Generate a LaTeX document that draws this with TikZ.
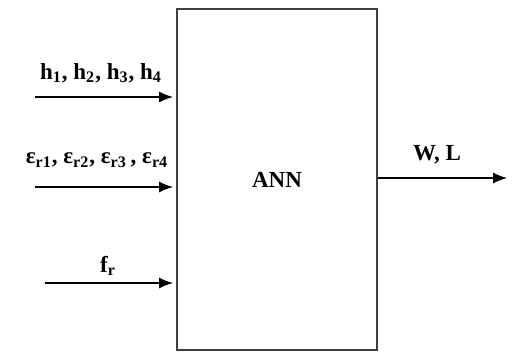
\documentclass[tikz,border=0pt]{standalone}
\usepackage{fontspec}
\setmainfont{Liberation Serif}
\usetikzlibrary{arrows.meta, positioning}

\begin{document}
\begin{tikzpicture}[x=0.5pt,y=-0.5pt,font=\bfseries\fontsize{11.5}{13}\selectfont,
     >={Latex[length=7pt,width=5.5pt]},
     block/.style={draw=black!75,line width=1pt,minimum width=100pt,minimum height=170.5pt,inner sep=0pt},
     lbl/.style={inner sep=1pt},
     flow/.style={->,line width=0.6pt,shorten >=1.5pt}]
    \useasboundingbox (0,0) rectangle (517,354);
    \node[block] (ann) at (277,179.5) {ANN};
    \coordinate (in1) at (35,97);
    \coordinate (in2) at (35,187);
    \coordinate (in3) at (45,283);
    \coordinate (out) at (507,178);
    \node[lbl] (lh) at (101,73) {h\textsubscript{1}, h\textsubscript{2}, h\textsubscript{3}, h\textsubscript{4}};
    \node[lbl] (le) at (97,160) {ε\textsubscript{r1}, ε\textsubscript{r2}, ε\textsubscript{r3}\,, ε\textsubscript{r4}};
    \node[lbl] (lf) at (108,266) {f\textsubscript{r}};
    \node[lbl] (lw) at (437,155) {W, L};
    \draw[flow] (in1) -- (in1 -| ann.west);
    \draw[flow] (in2) -- (in2 -| ann.west);
    \draw[flow] (in3) -- (in3 -| ann.west);
    \draw[flow,shorten >=0pt] (out -| ann.east) -- (out);
  \end{tikzpicture}
\end{document}
